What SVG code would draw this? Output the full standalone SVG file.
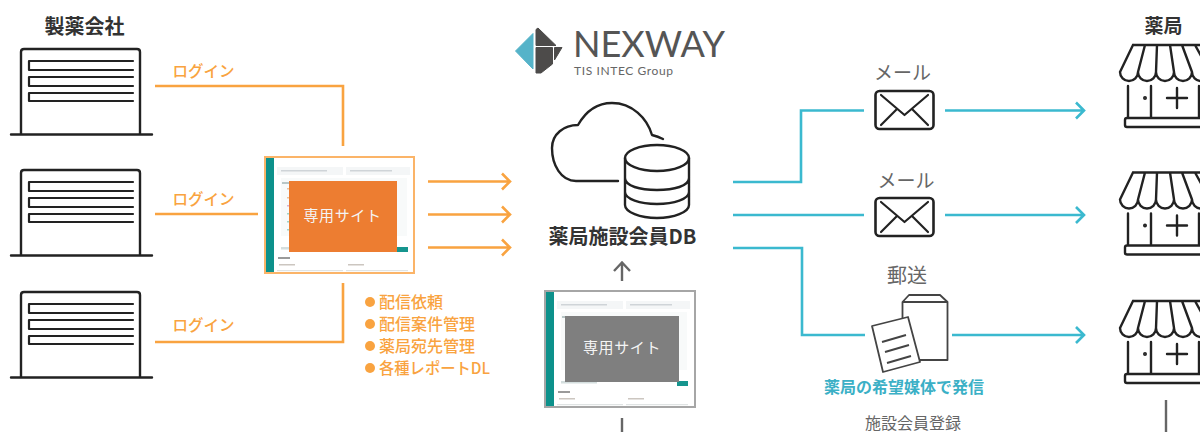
<svg xmlns="http://www.w3.org/2000/svg" xmlns:xlink="http://www.w3.org/1999/xlink" width="1200" height="432" viewBox="0 0 1200 432">
<style>
text{font-family:"Noto Sans CJK JP","Noto Sans",sans-serif;text-anchor:middle}
.ico{fill:none;stroke:#222;stroke-width:2.4;stroke-linecap:round;stroke-linejoin:round}
.or{fill:none;stroke:#f9a340;stroke-width:2.6}
.te{fill:none;stroke:#3bb9cf;stroke-width:2.6}
.hd{font-size:20px;font-weight:700;fill:#333}
.lg{font-size:15.5px;font-weight:500;fill:#f9a340}
.bl{font-size:16px;font-weight:500;fill:#f9a340;text-anchor:start}
.gr{fill:#666}
.sc{font-size:15px;fill:#f4f4f4;letter-spacing:.6px}
</style>
<defs>
<filter id="soft" x="-5%" y="-5%" width="110%" height="110%"><feGaussianBlur stdDeviation="0.7"/></filter>
<g id="bld" class="ico">
<path d="M21 134V52q0-3 3-3H137q3 0 3 3V134M11 134.500H152"/>
<path d="M133 61H29V70H133M133 77H29V86H133M133 93H29V101H133" stroke-width="2.200"/>
</g>
<g id="shop" class="ico">
<path d="M1133 45H1215M1133 45L1120 72A9 9 0 0 0 1138 72A9 9 0 0 0 1156 72A9 9 0 0 0 1174 72A9 9 0 0 0 1192 72A9 9 0 0 0 1210 72M1145 45L1138 72M1157 45L1156 72M1170 45L1174 72M1182 45L1192 72M1195 45L1210 72"/>
<path d="M1128 86V117M1151 86V117M1199 86V117M1167 98H1187M1177 88V108"/>
<rect x="1125" y="118" width="90" height="9" rx="2"/>
<circle cx="1145" cy="98" r=".8" fill="#222"/>
</g>
<g id="mail" class="ico">
<rect x="875.500" y="91" width="58" height="38" rx="4" stroke-width="2.600"/>
<path d="M881 95L904.500 115L928 95M881 125L897 109M928 125L912 109" stroke-width="2.200"/>
</g>
<g id="screen" filter="url(#soft)">
<rect width="150" height="116" fill="#fff"/>
<rect x="0" width="9" height="116" fill="#0e918b"/>
<rect x="12" y="10" width="66" height="8" fill="#f4f6f7"/><rect x="81" y="10" width="64" height="8" fill="#f4f6f7"/>
<rect x="16" y="13" width="46" height="1.500" fill="#cfd4d8"/><rect x="85" y="13" width="42" height="1.500" fill="#cfd4d8"/>
<rect x="16" y="21" width="126" height="58" fill="#f8fafa"/>
<rect x="17" y="25" width="34" height="2" fill="#b8c6c6"/>
<rect x="22" y="31" width="6" height="1.500" fill="#ecc09a"/><rect x="22" y="40" width="6" height="1.500" fill="#ecc09a"/><rect x="22" y="48" width="6" height="1.500" fill="#dcb0cc"/><rect x="22" y="56" width="6" height="1.500" fill="#a6d4c6"/><rect x="22" y="64" width="6" height="1.500" fill="#a6d4c6"/><rect x="22" y="72" width="6" height="1.500" fill="#a6d4c6"/>
<rect x="16" y="90" width="36" height="2.500" fill="#d4dede"/><rect x="132" y="90" width="11" height="5" fill="#12958e"/>
<rect x="13" y="100" width="12" height="2" fill="#9a9a9a"/>
<rect x="14" y="107" width="16" height="1.500" fill="#ccc6c0"/><rect x="83" y="107" width="16" height="1.500" fill="#ccc6c0"/>
<rect x="12" y="113" width="66" height="1.200" fill="#e0e4e4"/><rect x="81" y="113" width="62" height="1.200" fill="#e0e4e4"/>
</g>
</defs>

<g id="connectors">
<path class="or" d="M155 86H343V146M155 214H258M155 342H343V283"/>
<path class="or" d="M428 181.500H510M502 173.500L510 181.500L502 189.500M428 214.500H510M502 206.500L510 214.500L502 222.500M428 247.500H510M502 239.500L510 247.500L502 255.500"/>
<path fill="none" stroke="#666" stroke-width="2.400" d="M622 281V263M614 271L622 262.500L630 271M622 418V432M1166 400V432"/>
<path class="te" d="M733 182H801V110.500H864M945 110.500H1084M1076 102.500L1084 110.500L1076 118.500M733 215H864M945 215H1084M1076 207L1084 215L1076 223M733 248H802V335H865M952 335H1084M1076 327L1084 335L1076 343"/>
</g>

<g id="company"><text class="hd" x="84.500" y="34">製薬会社</text>
<use xlink:href="#bld"/><use xlink:href="#bld" y="121"/><use xlink:href="#bld" y="243"/></g>
<g id="login-labels"><text class="lg" x="203.500" y="77">ログイン</text><text class="lg" x="203.500" y="205">ログイン</text><text class="lg" x="203.500" y="331">ログイン</text></g>

<g id="site-orange">
<use xlink:href="#screen" x="265" y="157"/>
<rect x="265" y="157" width="149" height="116" fill="none" stroke="#fbb468" stroke-width="2"/>
<rect x="289" y="181" width="108" height="71" fill="#ed7d31"/>
<text class="sc" x="342.500" y="221">専用サイト</text>
</g>
<g id="functions">
<circle cx="370" cy="302" r="5" fill="#f9a340"/><text class="bl" x="379" y="308">配信依頼</text>
<circle cx="370" cy="324" r="5" fill="#f9a340"/><text class="bl" x="379" y="330">配信案件管理</text>
<circle cx="370" cy="346" r="5" fill="#f9a340"/><text class="bl" x="379" y="352">薬局宛先管理</text>
<circle cx="370" cy="368" r="5" fill="#f9a340"/><text class="bl" x="379" y="374" textLength="111" lengthAdjust="spacingAndGlyphs">各種レポートDL</text>
</g>

<g id="logo">
<path d="M515.500 51L533 33.500V69Z" fill="#55b3c9" stroke="#55b3c9" stroke-linejoin="round"/>
<path d="M536 29.500L538 28L556 45.500H536ZM536 47.500H552.500V64L541 73H536ZM554.500 47.500H562L554.500 60Z" fill="#4d4b4a" stroke="#4d4b4a" stroke-linejoin="round"/>
<text x="649" y="56.500" font-size="37" fill="#555" textLength="152" lengthAdjust="spacingAndGlyphs" style="font-family:Lato,'Open Sans',sans-serif;font-weight:400">NEXWAY</text>
<text x="623.500" y="75" font-size="12" fill="#666" textLength="99" style="font-family:Lato,'Open Sans',sans-serif">TIS INTEC Group</text>
</g>

<g id="db">
<path class="ico" stroke-width="2" d="M618 181H576C561 181 552 165 552 148C552 134 564 125 578 125C586 111 598 103 612 103C632 103 647 118 652 135C656 136 659 137 663 139"/>
<g class="ico">
<ellipse cx="657" cy="158" rx="32" ry="13"/>
<path d="M625 158V205C625 212 640 218 657 218C674 218 689 212 689 205V158M625 178C625 186 640 190 657 190C674 190 689 186 689 178M625 192C625 199 640 204 657 204C674 204 689 199 689 192"/>
</g>
<text x="622.500" y="244" font-size="20" font-weight="700" fill="#333">薬局施設会員DB</text>
</g>

<g id="site-gray">
<use xlink:href="#screen" x="545" y="291"/>
<rect x="545" y="291" width="150" height="116" fill="none" stroke="#a6a6a6" stroke-width="2"/>
<rect x="565" y="316" width="114" height="66" fill="#7f7f7f"/>
<text class="sc" x="622" y="353">専用サイト</text>
</g>
<g id="reg"><text class="gr" x="913" y="429" font-size="16">施設会員登録</text></g>

<g id="mail1"><text class="gr" x="902.500" y="80" font-size="19">メール</text><use xlink:href="#mail"/></g>
<g id="mail2"><text class="gr" x="906" y="188" font-size="19">メール</text><use xlink:href="#mail" y="107"/></g>
<g id="post">
<text class="gr" x="907" y="283" font-size="20">郵送</text>
<path fill="none" stroke="#444" stroke-width="1.800" stroke-linejoin="round" d="M902.500 360V302L909 295H940L947.500 302V360H902.500M902.500 302H947.500"/>
<path fill="#fff" stroke="#444" stroke-width="1.800" stroke-linejoin="round" d="M872 326L908 317L920 362L883 372Z"/>
<path fill="none" stroke="#444" stroke-width="2" d="M882 342L906 335M885 352L909 345M887 363L911 356"/>
<text x="904" y="393" font-size="16" font-weight="700" fill="#3bb0c6">薬局の希望媒体で発信</text>
</g>

<g id="pharmacy"><text class="hd" x="1163.500" y="33" style="font-size:19px">薬局</text>
<use xlink:href="#shop"/><use xlink:href="#shop" y="127.500"/><use xlink:href="#shop" y="256"/></g>
</svg>
